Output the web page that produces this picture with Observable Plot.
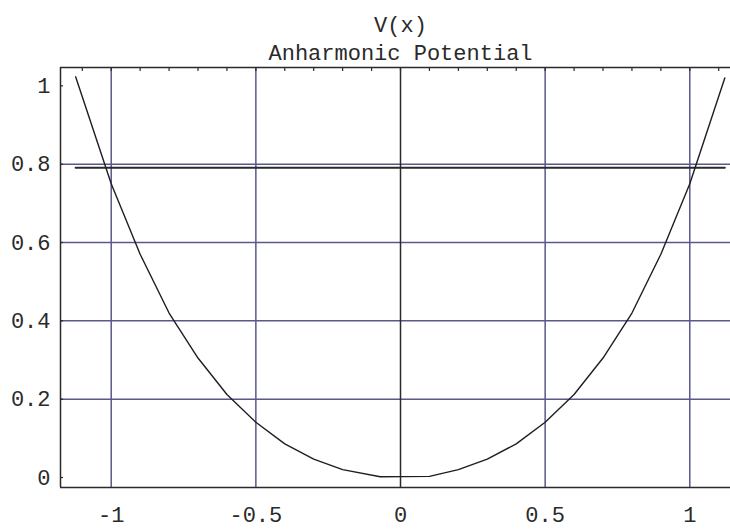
<!DOCTYPE html>
<html>
<head>
<meta charset="utf-8">
<script src="https://cdn.jsdelivr.net/npm/d3@7"></script>
<script src="https://cdn.jsdelivr.net/npm/@observablehq/plot@0.6"></script>
<style>
  html, body { margin: 0; padding: 0; background: #fff; }
  svg { display: block; }
</style>
</head>
<body>
<div id="chart"></div>
<script>
// Title lines
const titleLines = ["V(x)", "Anharmonic Potential"];

// Potential curve, values
const xs = [-1.123, -1.0, -0.9, -0.8, -0.7, -0.6, -0.5, -0.4, -0.3, -0.2, -0.07, 0.1, 0.2, 0.3, 0.4, 0.5, 0.6, 0.7, 0.8, 0.9, 1.0, 1.121];
const vs = [1.023, 0.75, 0.57, 0.42, 0.305, 0.212, 0.141, 0.086, 0.047, 0.02, 0.002, 0.003, 0.02, 0.047, 0.086, 0.141, 0.212, 0.305, 0.42, 0.57, 0.75, 1.02];

// Energy level line
const energy = 0.791;
const energyX = [-1.123, 1.121];

// Axis ticks and grid
const xTicks = [-1, -0.5, 0, 0.5, 1];
const xMinorTicks = [-1.1, -1, -0.9, -0.8, -0.7, -0.6, -0.5, -0.4, -0.3, -0.2, -0.1, 0, 0.1, 0.2, 0.3, 0.4, 0.5, 0.6, 0.7, 0.8, 0.9, 1, 1.1];
const yTicks = [0, 0.2, 0.4, 0.6, 0.8, 1];
const xGrid = [-1, -0.5, 0.5, 1];
const yGrid = [0.2, 0.4, 0.6, 0.8];

const xDomain = [-1.1753, 1.1407];
const yDomain = [-0.0255, 1.0468];

const curve = xs.map((x, i) => ({x, v: vs[i]}));

const font = "Liberation Mono, Courier New, monospace";
const gridColor = "#58588e";
const ink = "#2a2a2a";

const chart = Plot.plot({
  width: 730,
  height: 531,
  marginLeft: 60,
  marginRight: 0,
  marginTop: 67,
  marginBottom: 44,
  style: {fontFamily: font, background: "#fff"},
  x: {domain: xDomain, label: null},
  y: {domain: yDomain, label: null},
  marks: [
    Plot.gridX(xGrid, {stroke: gridColor, strokeOpacity: 1, strokeWidth: 1.5}),
    Plot.gridY(yGrid, {stroke: gridColor, strokeOpacity: 1, strokeWidth: 1.5}),
    Plot.ruleX([0], {stroke: ink, strokeWidth: 1.5}),
    Plot.ruleX([xDomain[0]], {stroke: ink, strokeWidth: 1.5}),
    Plot.ruleY([yDomain[0], yDomain[1]], {stroke: ink, strokeWidth: 1.5}),
    Plot.axisX(xMinorTicks, {anchor: "top", tickSize: -3, text: null, label: null, stroke: ink, strokeWidth: 1.2}),
    Plot.axisY(yTicks, {anchor: "left", tickSize: -3, text: null, label: null, stroke: ink, strokeWidth: 1.2}),
    Plot.axisX(xTicks, {anchor: "bottom", tickSize: 0, tickPadding: 19, label: null, fontSize: 22, fill: ink, tickFormat: d => String(d)}),
    Plot.axisY(yTicks, {anchor: "left", tickSize: 0, tickPadding: 10, label: null, fontSize: 22, fill: ink, tickFormat: d => String(d)}),
    Plot.lineY([energy, energy], {x: energyX, stroke: ink, strokeWidth: 2}),
    Plot.line(curve, {x: "x", y: "v", stroke: "#1e1e1e", strokeWidth: 1.4}),
    Plot.text([titleLines[0]], {x: [0], frameAnchor: "top", dy: -51, fontSize: 22, fill: ink, fontFamily: font}),
    Plot.text([titleLines[1]], {x: [0], frameAnchor: "top", dy: -23, fontSize: 22, fill: ink, fontFamily: font})
  ]
});
document.getElementById("chart").appendChild(chart);
</script>
</body>
</html>
